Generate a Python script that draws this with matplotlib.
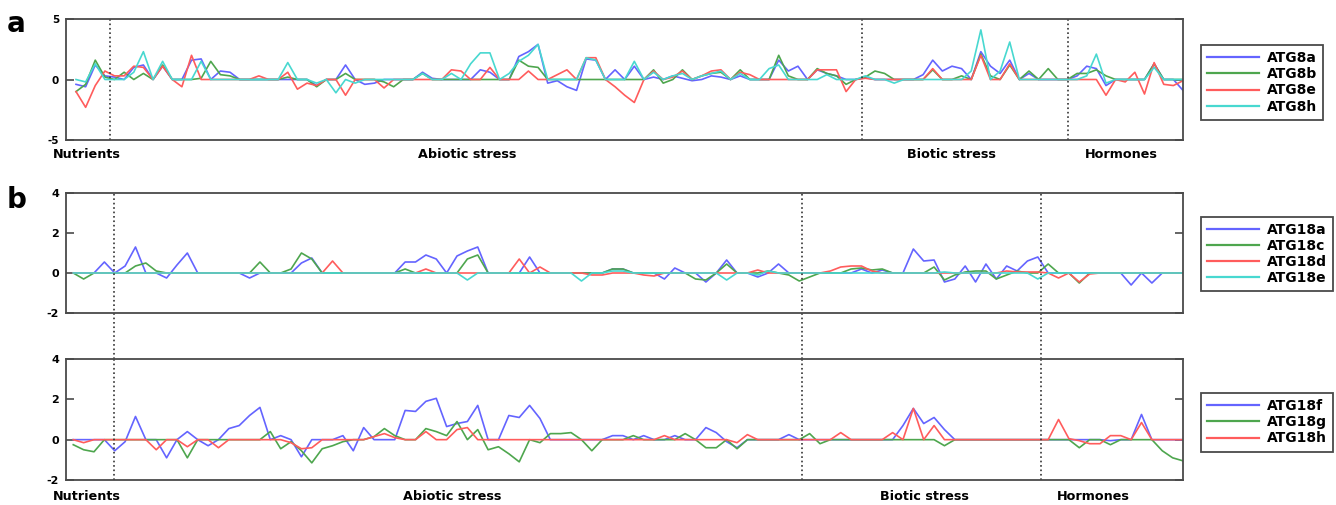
import numpy as np
import matplotlib
matplotlib.use("Agg")
import matplotlib.pyplot as plt

groups = ["Nutrients", "Abiotic stress", "Biotic stress", "Hormones"]

# panel a: ATG8 family, 116 experiments
atg8_names = ["ATG8a", "ATG8b", "ATG8e", "ATG8h"]
atg8a = [
    -0.4, -0.6, 1.2, 0.3, 0.2, 0.0, 1.0, 1.2, 0.0, 1.1,
    0.0, 0.0, 1.6, 1.7, 0.0, 0.7, 0.6, 0.0, 0.0, 0.0,
    0.0, 0.0, 0.0, 0.0, 0.0, -0.5, 0.0, 0.0, 1.2, 0.0,
    -0.4, -0.3, 0.0, 0.0, 0.0, 0.0, 0.6, 0.1, 0.0, 0.0,
    0.0, 0.0, 0.8, 0.6, 0.0, 0.0, 1.9, 2.3, 2.9, -0.3,
    -0.1, -0.6, -0.9, 1.7, 1.6, 0.0, 0.8, 0.0, 1.1, 0.0,
    0.2, 0.0, 0.3, 0.1, -0.1, 0.0, 0.3, 0.2, 0.0, 0.3,
    0.0, 0.0, 0.0, 1.6, 0.7, 1.1, 0.0, 0.8, 0.5, 0.3,
    0.0, 0.0, 0.15, 0.0, 0.0, 0.0, 0.0, 0.0, 0.4, 1.6,
    0.7, 1.1, 0.9, 0.0, 2.3, 1.1, 0.5, 1.6, 0.0, 0.5,
    0.0, 0.0, 0.0, 0.0, 0.3, 1.1, 0.9, -0.5, 0.0, 0.0,
    0.0, 0.0, 1.3, 0.0, 0.0, -0.9]
atg8b = [
    -1.0, -0.4, 1.6, 0.2, 0.0, 0.6, 0.0, 0.5, 0.0, 1.2,
    0.0, 0.0, 0.0, 0.1, 1.5, 0.4, 0.3, 0.0, 0.0, 0.0,
    0.0, 0.0, 0.2, 0.0, 0.0, -0.6, 0.0, 0.0, 0.5, 0.0,
    0.0, 0.0, -0.2, -0.6, 0.0, 0.0, 0.5, 0.0, 0.0, 0.0,
    0.0, 0.0, 0.0, 0.0, 0.0, 0.0, 1.6, 1.1, 1.0, 0.0,
    0.0, 0.0, 0.0, 0.0, 0.0, 0.0, 0.0, 0.0, 0.0, 0.0,
    0.8, -0.3, 0.0, 0.8, 0.0, 0.3, 0.5, 0.6, 0.0, 0.8,
    0.0, 0.0, 0.0, 2.0, 0.3, 0.0, 0.0, 0.9, 0.5, 0.3,
    -0.4, 0.0, 0.2, 0.7, 0.5, 0.0, 0.0, 0.0, 0.0, 0.8,
    0.0, 0.0, 0.3, 0.0, 2.1, 0.3, 0.0, 1.2, 0.0, 0.7,
    0.0, 0.9, 0.0, 0.0, 0.5, 0.5, 0.8, 0.3, 0.0, 0.0,
    0.0, 0.0, 1.3, 0.0, 0.0, 0.0]
atg8e = [
    -1.0, -2.3, -0.5, 0.7, 0.3, 0.3, 1.1, 1.0, 0.0, 1.1,
    0.0, -0.6, 2.0, 0.0, 0.0, 0.0, 0.0, 0.0, 0.0, 0.3,
    0.0, 0.0, 0.6, -0.8, -0.3, -0.5, 0.0, 0.0, -1.3, 0.0,
    0.0, 0.0, -0.7, 0.0, 0.0, 0.0, 0.0, 0.0, 0.0, 0.8,
    0.7, 0.0, 0.0, 1.0, 0.0, 0.0, 0.0, 0.7, 0.0, 0.0,
    0.4, 0.8, 0.0, 1.8, 1.8, 0.0, -0.6, -1.3, -1.9, 0.0,
    0.7, 0.0, 0.2, 0.7, 0.0, 0.3, 0.7, 0.8, 0.0, 0.6,
    0.4, 0.0, 0.0, 0.0, 0.0, 0.0, 0.0, 0.8, 0.8, 0.8,
    -1.0, 0.0, 0.1, 0.0, 0.0, 0.0, 0.0, 0.0, 0.0, 0.9,
    0.0, 0.0, 0.0, 0.0, 2.0, 0.0, 0.0, 1.3, 0.0, 0.0,
    0.0, 0.0, 0.0, 0.0, 0.0, 0.0, 0.0, -1.3, 0.0, -0.2,
    0.6, -1.2, 1.4, -0.4, -0.5, -0.1]
atg8h = [
    0.0, -0.2, 1.3, 0.0, 0.0, 0.0, 0.6, 2.3, 0.0, 1.5,
    0.0, 0.0, 0.0, 1.5, 0.0, 0.0, 0.0, 0.0, 0.0, 0.0,
    0.0, 0.0, 1.4, 0.0, 0.0, -0.3, 0.0, -1.1, 0.0, -0.3,
    0.0, 0.0, 0.0, 0.0, 0.0, 0.0, 0.5, 0.0, 0.0, 0.5,
    0.0, 1.3, 2.2, 2.2, 0.0, 0.5, 1.5, 2.0, 2.9, 0.0,
    0.0, 0.0, 0.0, 1.8, 1.6, 0.0, 0.0, 0.0, 1.5, 0.0,
    0.6, 0.0, 0.3, 0.5, 0.0, 0.3, 0.5, 0.7, 0.0, 0.5,
    0.0, 0.0, 0.9, 1.2, 0.0, 0.0, 0.0, 0.0, 0.4, 0.0,
    0.0, 0.0, 0.3, 0.0, 0.0, -0.3, 0.0, 0.0, 0.0, 0.0,
    0.0, 0.0, 0.0, 0.7, 4.1, 0.0, 0.7, 3.1, 0.0, 0.0,
    0.0, 0.0, 0.0, 0.0, 0.0, 0.3, 2.1, -0.3, 0.0, 0.0,
    0.0, 0.0, 1.0, 0.0, 0.0, 0.0]

# panel b: ATG18 family, 108 experiments
atg18_top_names = ["ATG18a", "ATG18c", "ATG18d", "ATG18e"]
atg18a = [
    0.0, 0.0, 0.0, 0.55, 0.0, 0.35, 1.3, 0.0, 0.0, -0.25,
    0.4, 1.0, 0.0, 0.0, 0.0, 0.0, 0.0, -0.25, 0.0, 0.0,
    0.0, 0.0, 0.5, 0.75, 0.0, 0.0, 0.0, 0.0, 0.0, 0.0,
    0.0, 0.0, 0.55, 0.55, 0.9, 0.7, 0.0, 0.85, 1.1, 1.3,
    0.0, 0.0, 0.0, 0.0, 0.8, 0.0, 0.0, 0.0, 0.0, 0.0,
    0.0, 0.0, 0.2, 0.2, 0.0, 0.0, 0.0, -0.3, 0.25, 0.0,
    0.0, -0.45, 0.0, 0.65, 0.0, 0.0, -0.2, 0.0, 0.45, 0.0,
    0.0, 0.0, 0.0, 0.0, 0.0, 0.0, 0.2, 0.0, 0.15, 0.0,
    0.0, 1.2, 0.6, 0.65, -0.45, -0.3, 0.35, -0.45, 0.45, -0.3,
    0.35, 0.1, 0.6, 0.8, 0.0, 0.0, 0.0, 0.0, 0.0, 0.0,
    0.0, 0.0, -0.6, 0.0, -0.5, 0.0, 0.0, 0.0]
atg18c = [
    0.0, -0.3, 0.0, 0.0, 0.0, 0.0, 0.35, 0.5, 0.1, 0.0,
    0.0, 0.0, 0.0, 0.0, 0.0, 0.0, 0.0, 0.0, 0.55, 0.0,
    0.0, 0.2, 1.0, 0.7, 0.0, 0.0, 0.0, 0.0, 0.0, 0.0,
    0.0, 0.0, 0.2, 0.0, 0.0, 0.0, 0.0, 0.0, 0.7, 0.9,
    0.0, 0.0, 0.0, 0.0, 0.0, 0.0, 0.0, 0.0, 0.0, 0.0,
    0.0, 0.0, 0.2, 0.2, 0.0, 0.0, 0.0, 0.0, 0.0, 0.0,
    -0.3, -0.35, 0.0, 0.45, 0.0, 0.0, 0.0, 0.1, 0.0, -0.1,
    -0.4, -0.2, 0.0, 0.0, 0.0, 0.2, 0.25, 0.15, 0.2, 0.0,
    0.0, 0.0, 0.0, 0.3, -0.35, -0.1, 0.05, 0.1, 0.1, -0.3,
    -0.1, 0.1, 0.0, 0.0, 0.45, 0.0, 0.0, -0.5, 0.0, 0.0,
    0.0, 0.0, 0.0, 0.0, 0.0, 0.0, 0.0, 0.0]
atg18d = [
    0.0, 0.0, 0.0, 0.0, 0.0, 0.0, 0.0, 0.0, 0.0, 0.0,
    0.0, 0.0, 0.0, 0.0, 0.0, 0.0, 0.0, 0.0, 0.0, 0.0,
    0.0, 0.0, 0.0, 0.0, 0.0, 0.6, 0.0, 0.0, 0.0, 0.0,
    0.0, 0.0, 0.0, 0.0, 0.2, 0.0, 0.0, 0.0, 0.0, 0.0,
    0.0, 0.0, 0.0, 0.7, 0.0, 0.3, 0.0, 0.0, 0.0, 0.0,
    -0.1, -0.1, 0.0, 0.0, 0.0, -0.1, -0.15, 0.0, 0.0, 0.0,
    0.0, 0.0, 0.0, 0.0, 0.0, 0.0, 0.15, 0.0, 0.0, 0.0,
    0.0, 0.0, 0.0, 0.1, 0.3, 0.35, 0.35, 0.1, 0.0, 0.0,
    0.0, 0.0, 0.0, 0.0, 0.0, 0.0, 0.0, 0.0, 0.0, 0.0,
    0.1, 0.05, 0.05, 0.05, 0.0, -0.25, 0.0, -0.45, -0.05, 0.0,
    0.0, 0.0, 0.0, 0.0, 0.0, 0.0, 0.0, 0.0]
atg18e = [
    0.0, 0.0, 0.0, 0.0, 0.0, 0.0, 0.0, 0.0, 0.0, 0.0,
    0.0, 0.0, 0.0, 0.0, 0.0, 0.0, 0.0, 0.0, 0.0, 0.0,
    0.0, 0.0, 0.0, 0.0, 0.0, 0.0, 0.0, 0.0, 0.0, 0.0,
    0.0, 0.0, 0.0, 0.0, 0.0, 0.0, 0.0, 0.0, -0.35, 0.0,
    0.0, 0.0, 0.0, 0.0, 0.0, 0.0, 0.0, 0.0, 0.0, -0.4,
    0.0, 0.0, 0.1, 0.1, 0.0, 0.0, 0.0, 0.0, 0.0, 0.0,
    0.0, 0.0, 0.0, -0.35, 0.0, 0.0, -0.1, 0.1, 0.0, 0.0,
    0.0, 0.0, 0.0, 0.0, 0.0, 0.0, 0.0, 0.0, 0.0, 0.0,
    0.0, 0.0, 0.0, 0.0, 0.05, 0.0, 0.0, 0.0, 0.0, 0.0,
    0.0, 0.0, 0.0, -0.3, 0.0, 0.0, 0.0, 0.0, 0.0, 0.0,
    0.0, 0.0, 0.0, 0.0, 0.0, 0.0, 0.0, 0.0]

atg18_bot_names = ["ATG18f", "ATG18g", "ATG18h"]
atg18f = [
    0.0, 0.0, 0.0, 0.0, -0.55, -0.1, 1.15, 0.0, 0.0, -0.9,
    0.0, 0.4, 0.0, -0.3, 0.0, 0.55, 0.7, 1.2, 1.6, 0.0,
    0.2, 0.0, -0.85, 0.0, 0.0, 0.0, 0.2, -0.55, 0.6, 0.0,
    0.0, 0.0, 1.45, 1.4, 1.9, 2.05, 0.65, 0.8, 0.9, 1.7,
    0.0, 0.0, 1.2, 1.1, 1.7, 1.05, 0.0, 0.0, 0.0, 0.0,
    0.0, 0.0, 0.2, 0.2, 0.0, 0.2, 0.0, 0.0, 0.2, 0.0,
    0.0, 0.6, 0.35, -0.1, -0.4, 0.0, 0.0, 0.0, 0.0, 0.25,
    0.0, 0.0, 0.0, 0.0, 0.0, 0.0, 0.0, 0.0, 0.0, 0.0,
    0.7, 1.55, 0.8, 1.1, 0.5, 0.0, 0.0, 0.0, 0.0, 0.0,
    0.0, 0.0, 0.0, 0.0, 0.0, 0.0, 0.0, 0.0, 0.0, 0.0,
    -0.05, 0.0, 0.0, 1.25, 0.0, 0.0, 0.0, 0.0]
atg18g = [
    -0.25, -0.5, -0.6, 0.0, 0.0, 0.0, 0.0, 0.0, 0.0, 0.0,
    0.0, -0.9, 0.0, 0.0, 0.0, 0.0, 0.0, 0.0, 0.0, 0.4,
    -0.45, -0.1, -0.55, -1.15, -0.45, -0.3, -0.1, 0.0, 0.0, 0.15,
    0.55, 0.2, 0.0, 0.0, 0.55, 0.4, 0.2, 0.9, 0.0, 0.5,
    -0.5, -0.35, -0.7, -1.1, 0.0, -0.15, 0.3, 0.3, 0.35, 0.0,
    -0.55, 0.0, 0.0, 0.0, 0.2, 0.0, 0.0, 0.0, 0.0, 0.3,
    0.0, -0.4, -0.4, 0.0, -0.45, 0.0, 0.0, 0.0, 0.0, 0.0,
    0.0, 0.3, -0.2, 0.0, 0.0, 0.0, 0.0, 0.0, 0.0, 0.0,
    0.0, 0.0, 0.0, 0.0, -0.3, 0.0, 0.0, 0.0, 0.0, 0.0,
    0.0, 0.0, 0.0, 0.0, 0.0, 0.0, 0.0, -0.4, 0.0, 0.0,
    -0.25, 0.0, 0.0, 0.0, 0.0, -0.55, -0.9, -1.05]
atg18h = [
    0.0, -0.15, 0.0, 0.0, 0.0, 0.0, 0.0, 0.0, -0.5, 0.0,
    0.0, -0.35, 0.0, 0.0, -0.4, 0.0, 0.0, 0.0, 0.0, 0.0,
    0.0, -0.15, -0.45, -0.4, 0.0, 0.0, 0.0, 0.0, 0.0, 0.15,
    0.3, 0.1, 0.0, 0.0, 0.4, 0.0, 0.0, 0.5, 0.6, 0.0,
    0.0, 0.0, 0.0, 0.0, 0.0, 0.0, 0.0, 0.0, 0.0, 0.0,
    0.0, 0.0, 0.0, 0.0, 0.0, 0.0, 0.0, 0.2, 0.0, 0.0,
    0.0, 0.0, 0.0, 0.0, -0.15, 0.25, 0.0, 0.0, 0.0, 0.0,
    0.0, 0.0, 0.0, 0.0, 0.35, 0.0, 0.0, 0.0, 0.0, 0.35,
    0.0, 1.55, 0.0, 0.7, 0.0, 0.0, 0.0, 0.0, 0.0, 0.0,
    0.0, 0.0, 0.0, 0.0, 0.0, 1.0, 0.05, -0.05, -0.2, -0.2,
    0.2, 0.2, 0.0, 0.85, 0.0, 0.0, 0.0, 0.0]

# group boundaries (experiment index) for each panel
bounds_a = [3.5, 81.7, 103.1]
bounds_b = [3.9, 70.3, 93.3]

colors = ["#6464ff", "#4ea64e", "#ff5c5c", "#48d8d0"]
frame_col = "#4a4a4a"

W, H = 1336, 505


def fx(px):
    return px / W


def fy(py):
    return 1 - py / H


def style_axis(ax, ylim, yticks, xlim, labelsize):
    ax.set_xlim(*xlim)
    ax.set_ylim(*ylim)
    ax.set_yticks(yticks)
    ax.set_xticks([])
    ax.tick_params(axis="y", direction="in", length=6, width=1.2,
                   right=True, labelsize=labelsize, pad=5, color=frame_col)
    for sp in ax.spines.values():
        sp.set_color(frame_col)
        sp.set_linewidth(1.3)


def add_legend(ax, top):
    leg = ax.legend(loc="upper left", bbox_to_anchor=(1.016, top),
                    borderaxespad=0, prop={"weight": "bold", "size": 10},
                    handlelength=3.7, handletextpad=0.6, labelspacing=0.15,
                    borderpad=0.45, fancybox=False, framealpha=1,
                    edgecolor=frame_col)
    leg.get_frame().set_linewidth(1.3)
    for line in leg.get_lines():
        line.set_linewidth(1.6)


plt.rcParams["font.family"] = "DejaVu Sans"
plt.rcParams["font.weight"] = "bold"
plt.rcParams["axes.unicode_minus"] = False

fig = plt.figure(figsize=(W / 100, H / 100), dpi=100)
ax_a = fig.add_axes([fx(66), fy(140), 1117 / W, 121 / H])
ax_b1 = fig.add_axes([fx(66), fy(313), 1117 / W, 120 / H])
ax_b2 = fig.add_axes([fx(66), fy(480), 1117 / W, 121 / H])

# panel a
xa = np.arange(len(atg8a))
for vals, name, c in zip([atg8a, atg8b, atg8e, atg8h], atg8_names, colors):
    ax_a.plot(xa, vals, color=c, lw=1.2, label=name)
for b in bounds_a:
    ax_a.axvline(b, color="#333333", ls=":", lw=1.2)
style_axis(ax_a, (-5, 5), [-5, 0, 5], (-1.04, 115), 7.5)
add_legend(ax_a, 0.785)

# panel b, upper
xb = np.arange(len(atg18a))
for vals, name, c in zip([atg18a, atg18c, atg18d, atg18e], atg18_top_names, colors):
    ax_b1.plot(xb, vals, color=c, lw=1.2, label=name)
style_axis(ax_b1, (-2, 4), [-2, 0, 2, 4], (-0.7, 107), 8)
add_legend(ax_b1, 0.8025)

# panel b, lower
for vals, name, c in zip([atg18f, atg18g, atg18h], atg18_bot_names, colors[:3]):
    ax_b2.plot(xb, vals, color=c, lw=1.2, label=name)
style_axis(ax_b2, (-2, 4), [-2, 0, 2, 4], (-0.7, 107), 8)
add_legend(ax_b2, 0.719)

# dividers in panel b run through both axes
gap = (359 - 313) / 120
for b in bounds_b:
    ax_b1.axvline(b, ymin=-gap, ymax=1, color="#333333", ls=":", lw=1.2,
                  clip_on=False)
    ax_b2.axvline(b, color="#333333", ls=":", lw=1.2)

# group labels under the axes
lab_kw = dict(fontsize=9.2, fontweight="bold", va="center")
fig.text(fx(53), fy(155), groups[0], ha="left", **lab_kw)
fig.text(fx(467), fy(155), groups[1], ha="center", **lab_kw)
fig.text(fx(951), fy(155), groups[2], ha="center", **lab_kw)
fig.text(fx(1121), fy(155), groups[3], ha="center", **lab_kw)
fig.text(fx(53), fy(497), groups[0], ha="left", **lab_kw)
fig.text(fx(452), fy(497), groups[1], ha="center", **lab_kw)
fig.text(fx(924), fy(497), groups[2], ha="center", **lab_kw)
fig.text(fx(1093), fy(497), groups[3], ha="center", **lab_kw)

# panel letters
fig.text(fx(7), fy(32), "a", fontsize=20, fontweight="bold", va="baseline")
fig.text(fx(7), fy(208), "b", fontsize=20, fontweight="bold", va="baseline")

fig.savefig("out.png", dpi=100)
